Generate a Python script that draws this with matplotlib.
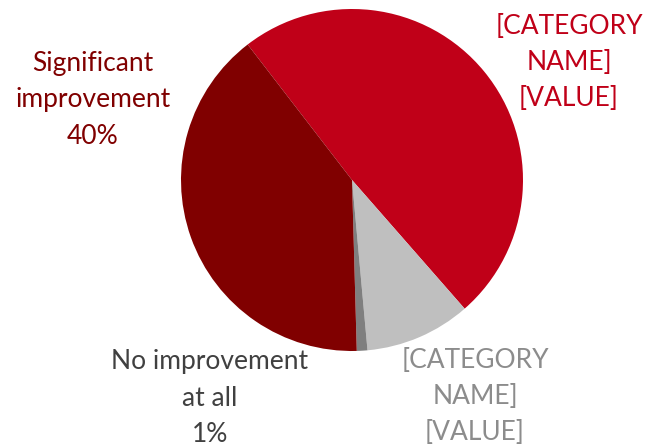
import matplotlib
matplotlib.use("Agg")
import matplotlib.pyplot as plt

categories = ["[CATEGORY NAME]", "[CATEGORY NAME]", "No improvement at all", "Significant improvement"]
values = [49, 10, 1, 40]
colors = ["#C00018", "#BFBFBF", "#7F7F7F", "#800000"]
label_texts = ["[CATEGORY\nNAME]\n[VALUE]", "[CATEGORY\nNAME]\n[VALUE]",
               "No improvement\nat all\n1%", "Significant\nimprovement\n40%"]
label_colors = ["#C00018", "#8C8C8C", "#404040", "#800000"]

plt.rcParams['font.family'] = ['Lato', 'DejaVu Sans']

W, H = 654, 447
fig = plt.figure(figsize=(W / 100, H / 100), dpi=100)
cx, cy, r = 352, 180, 171
ax = fig.add_axes([(cx - r) / W, (H - cy - r) / H, 2 * r / W, 2 * r / H])
ax.pie(values, colors=colors, startangle=127.6, counterclock=False,
       radius=1, wedgeprops=dict(linewidth=0))
ax.set_xlim(-1, 1)
ax.set_ylim(-1, 1)
ax.set_aspect('equal')
ax.axis('off')

label_pos = [(569, 62), (475, 397), (210, 398), (93, 100)]
for txt, col, (x, y) in zip(label_texts, label_colors, label_pos):
    fig.text(x / W, 1 - y / H, txt, color=col, fontsize=19, ha='center',
             va='center', linespacing=1.55)

fig.savefig("out.png", dpi=100)
